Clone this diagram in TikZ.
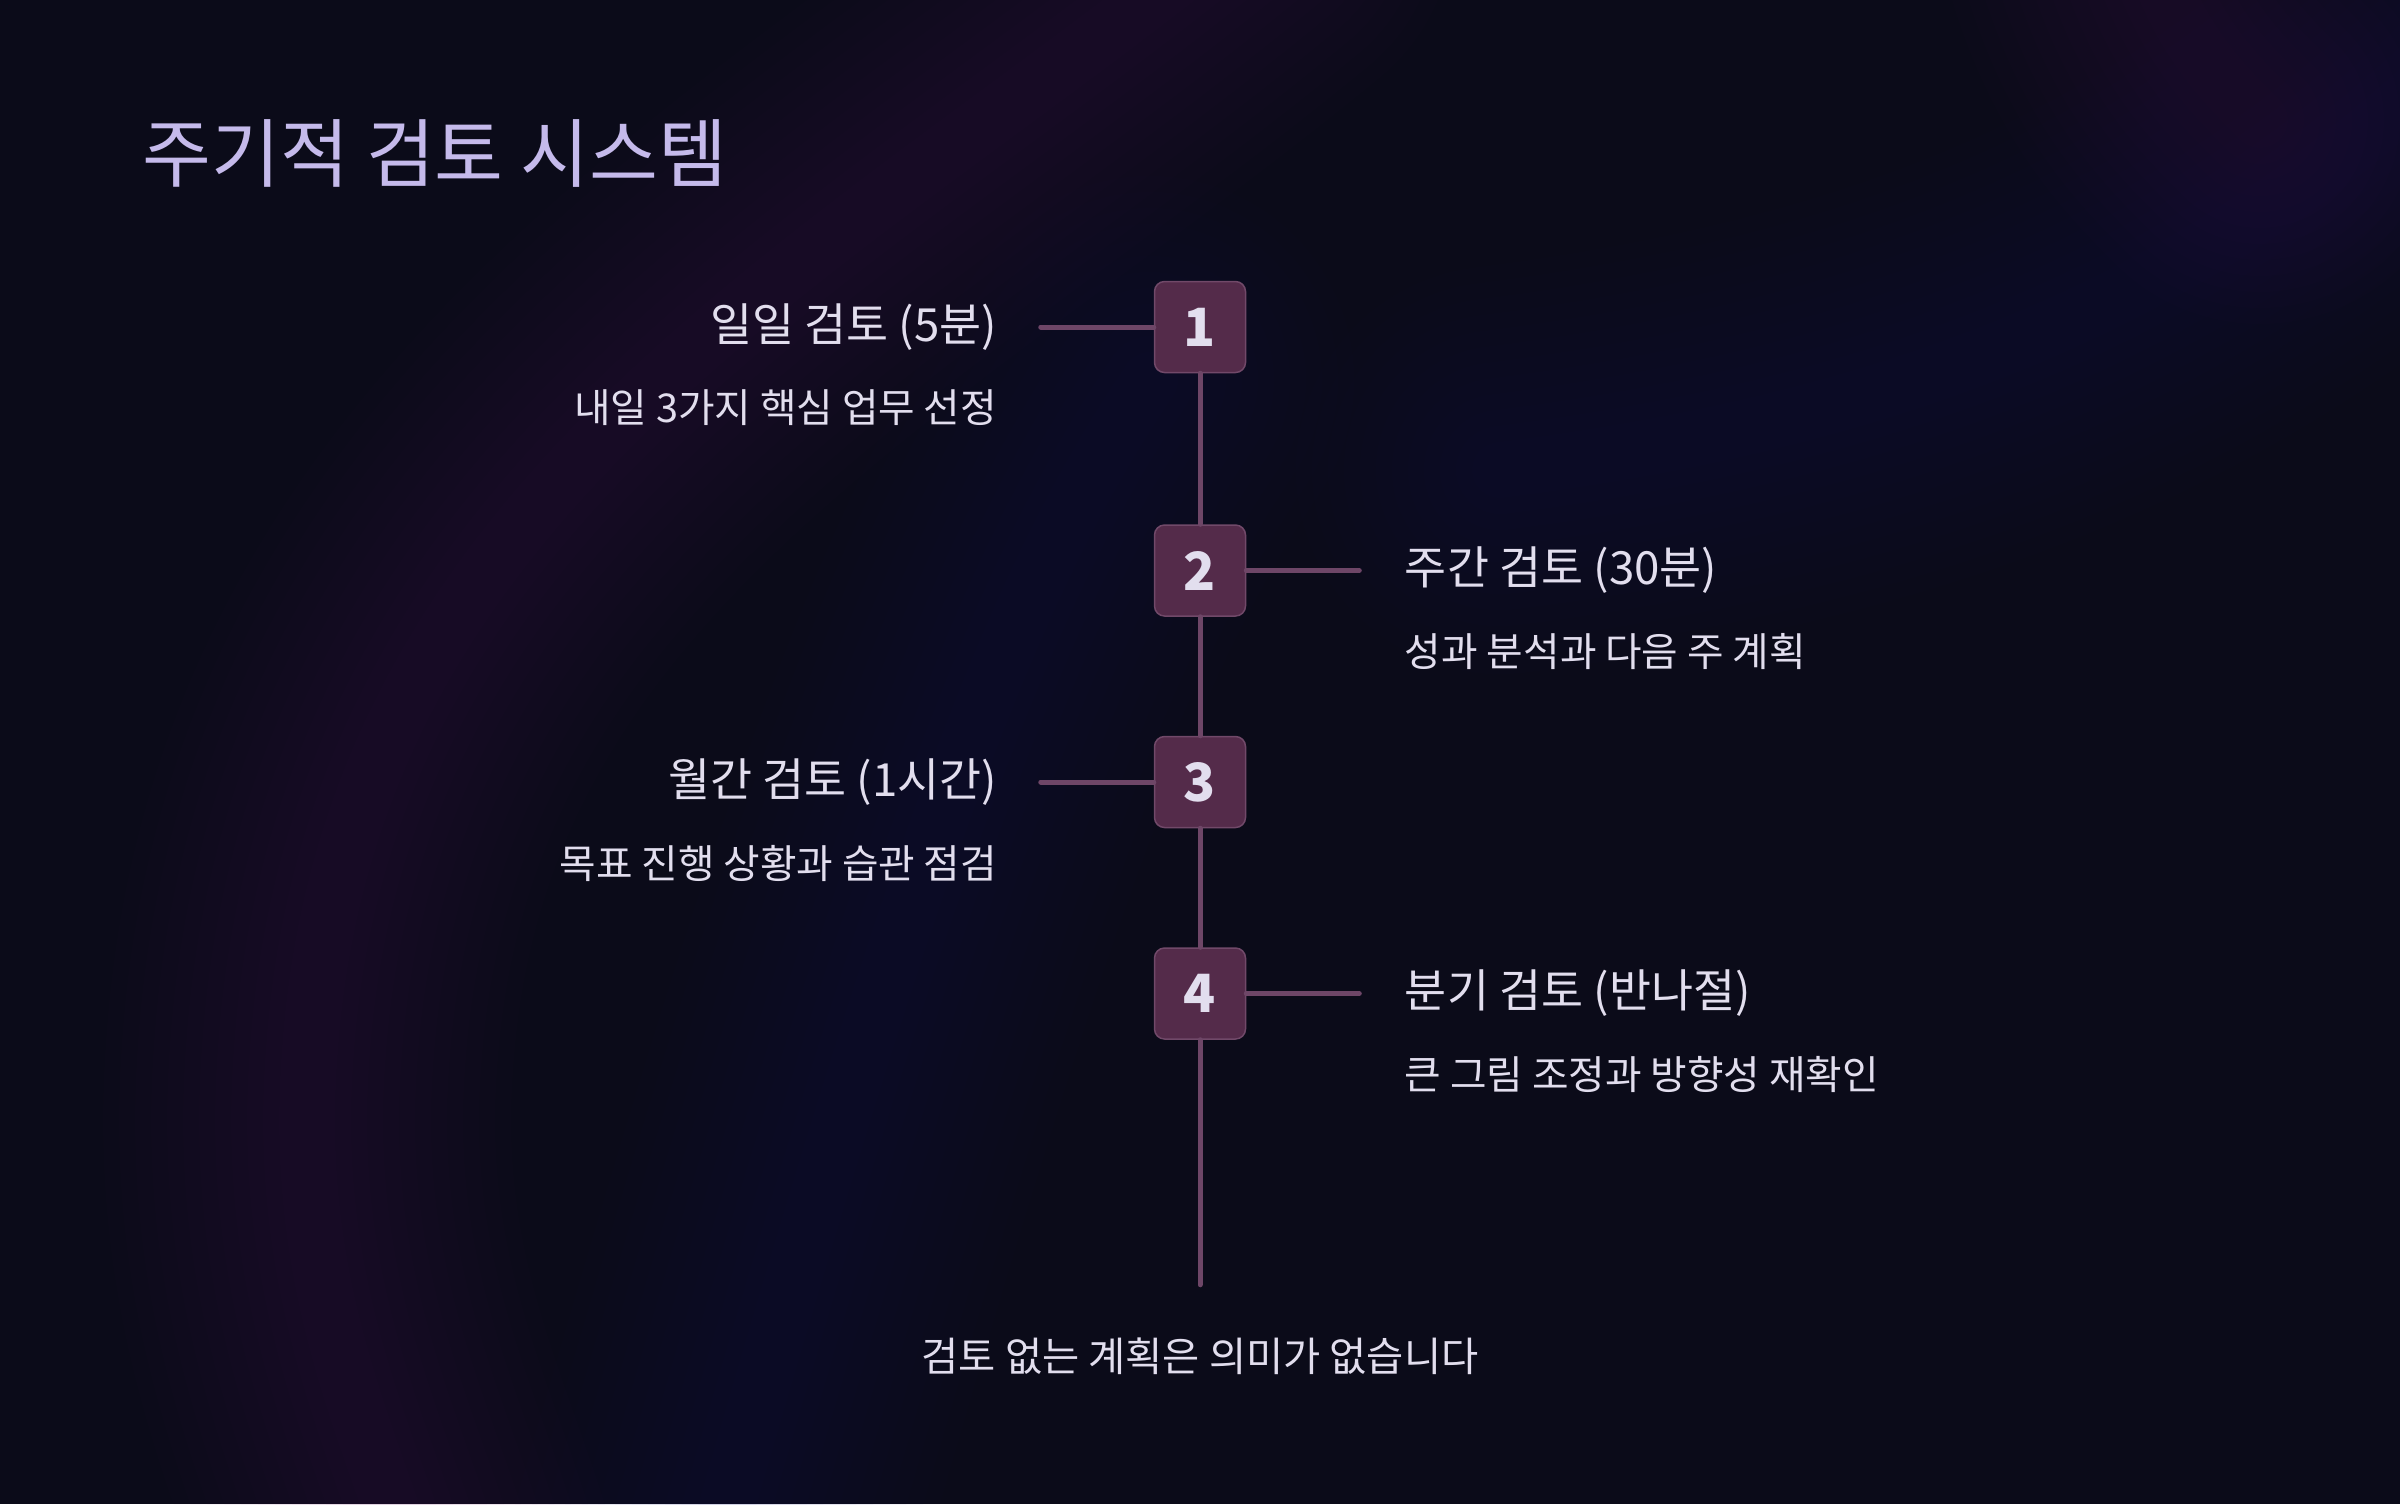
\documentclass[tikz,border=0pt]{standalone}
\usepackage{fontspec}
\usepackage{xcolor}
\usepackage{tikz}
\usetikzlibrary{positioning, calc}
\newfontfamily\cjk{Noto Sans CJK KR}
\definecolor{bgdark}{HTML}{0B0B19}
\definecolor{titlecol}{HTML}{C5BAEB}
\definecolor{textcol}{HTML}{E2DEEE}
\definecolor{boxfill}{HTML}{542B4A}
\definecolor{boxline}{HTML}{714969}
\definecolor{linecol}{HTML}{6E4667}
\definecolor{glowmag}{HTML}{6A2466}
\definecolor{glowblue}{HTML}{22287A}
\definecolor{glowviolet}{HTML}{3A2A78}

\begin{document}
\begin{tikzpicture}[
    x=0.1mm, y=-0.1mm,
    stepnum/.style={draw=boxline, line width=0.15mm, fill=boxfill, rounded corners=1mm, minimum size=9.1mm, inner sep=0pt, font=\cjk\bfseries\fontsize{15}{18}\selectfont, text=textcol},
    head/.style={font=\cjk\fontsize{13}{15}\selectfont, text=textcol, inner sep=0pt},
    sub/.style={font=\cjk\fontsize{11.3}{13}\selectfont, text=textcol, inner sep=0pt},
    link/.style={draw=linecol, line width=0.5mm, line cap=round},
    glow/.style={draw=#1, line cap=round, line join=round},
]

% Background
\fill[bgdark] (0,0) rectangle (2400,1504);
\useasboundingbox (0,0) rectangle (2400,1504);
\begin{scope}
\clip (0,0) rectangle (2400,1504);
\foreach \i in {1,...,12} {
  \pgfmathsetmacro\w{440-32*\i}
  \draw[glow=glowmag, line width=\w*0.1mm, opacity=0.019] (1250,-80) .. controls (850,250) and (350,480) .. (310,1050) .. controls (290,1300) and (380,1450) .. (420,1600);
  \draw[glow=glowblue, line width=\w*0.1mm, opacity=0.018] (1150,380) .. controls (1000,600) and (900,900) .. (700,1600);
  \draw[glow=glowviolet, line width=\w*0.1mm, opacity=0.017] (2450,60) .. controls (2200,300) and (1900,420) .. (1500,470);
  \draw[glow=glowmag, line width=\w*0.1mm, opacity=0.015] (2150,-50) .. controls (2180,40) and (2220,80) .. (2260,120);
  \draw[glow=glowmag, line width=\w*0.1mm, opacity=0.009] (950,1290) .. controls (1400,1240) and (1900,1260) .. (2150,1150);
  \draw[glow=glowviolet, line width=\w*0.1mm, opacity=0.009] (2150,1150) .. controls (2350,950) and (2350,700) .. (2300,500);
}
\end{scope}

% Title
\node[anchor=west, inner sep=0pt, text=titlecol, font=\cjk\fontsize{21.3}{25}\selectfont] (title) at (142,153) {주기적 검토 시스템};

% Steps
\node[stepnum] (b1) at (1200,327) {1};
\node[stepnum, below=15.1mm of b1] (b2) {2};
\node[stepnum, below=11.9mm of b2] (b3) {3};
\node[stepnum, below=11.9mm of b3] (b4) {4};
\coordinate[below=24.5mm of b4] (tail);

% Labels
\node[head, left=15.6mm of b1] (h1) {일일 검토 (5분)};
\node[sub, anchor=east] (s1) at ($(h1.east)+(0,81)$) {내일 3가지 핵심 업무 선정};
\node[head, right=15.8mm of b2] (h2) {주간 검토 (30분)};
\node[sub, anchor=west] (s2) at ($(h2.west)+(0,81)$) {성과 분석과 다음 주 계획};
\node[head, left=15.6mm of b3] (h3) {월간 검토 (1시간)};
\node[sub, anchor=east] (s3) at ($(h3.east)+(0,81)$) {목표 진행 상황과 습관 점검};
\node[head, right=15.8mm of b4] (h4) {분기 검토 (반나절)};
\node[sub, anchor=west] (s4) at ($(h4.west)+(0,81)$) {큰 그림 조정과 방향성 재확인};

% Connectors
\coordinate[left=11.3mm of b1] (c1);
\coordinate[right=11.3mm of b2] (c2);
\coordinate[left=11.3mm of b3] (c3);
\coordinate[right=11.3mm of b4] (c4);
\draw[link] (b1.west) -- (c1);
\draw[link] (b2.east) -- (c2);
\draw[link] (b3.west) -- (c3);
\draw[link] (b4.east) -- (c4);
\draw[link] (b1) -- (b2);
\draw[link] (b2) -- (b3);
\draw[link] (b3) -- (b4);
\draw[link] (b4) -- (tail);

% Footer
\node[sub, font=\cjk\fontsize{11.5}{14}\selectfont] (note) at (1200,1356) {검토 없는 계획은 의미가 없습니다};

\end{tikzpicture}
\end{document}
